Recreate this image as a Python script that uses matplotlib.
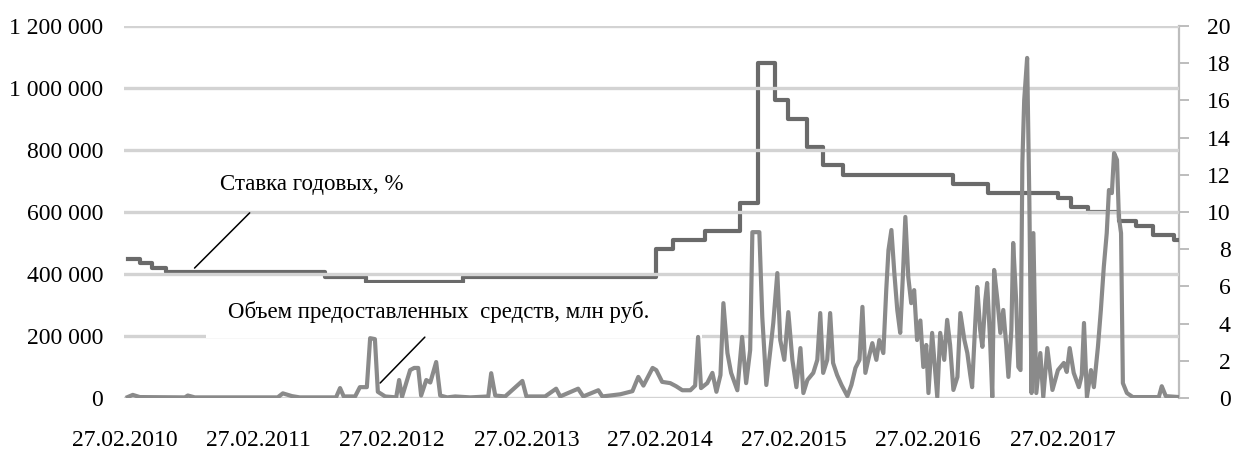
import matplotlib.pyplot as plt
import matplotlib.dates as mdates
import pandas as pd
from matplotlib.patches import Rectangle

plt.rcParams['font.family'] = ['Liberation Serif', 'DejaVu Serif']

# Ставка годовых, % (ступенчатый ряд: дата начала, значение)
rate_dates = ['2010-03-08', '2010-04-10', '2010-05-13', '2010-06-20', '2011-08-28',
              '2011-12-17', '2012-09-08', '2014-02-14', '2014-04-03', '2014-06-30',
              '2014-10-03', '2014-11-19', '2015-01-06', '2015-02-11', '2015-04-04',
              '2015-05-17', '2015-07-09', '2016-05-06', '2016-08-08', '2017-02-15',
              '2017-03-22', '2017-05-08', '2017-07-31', '2017-09-15', '2017-11-01',
              '2017-12-28', '2018-01-11']
rate_values = [7.5, 7.25, 7.0, 6.75, 6.5, 6.25, 6.5, 8.0, 8.5, 9.0,
               10.5, 18.0, 16.0, 15.0, 13.5, 12.5, 12.0, 11.5, 11.0, 10.75,
               10.25, 10.0, 9.5, 9.25, 8.75, 8.5, 8.5]

# Объем предоставленных средств, млн руб.
vol_dates = [
    '2010-03-08', '2010-03-22', '2010-04-10', '2010-08-11', '2010-08-19', '2010-09-07',
    '2011-04-21', '2011-05-05', '2011-05-30', '2011-06-20', '2011-09-27', '2011-10-08',
    '2011-10-18', '2011-11-18', '2011-12-01', '2011-12-20', '2011-12-29', '2012-01-11',
    '2012-01-19', '2012-02-08', '2012-03-09', '2012-03-17', '2012-03-25', '2012-04-16',
    '2012-04-27', '2012-05-08', '2012-05-16', '2012-05-30', '2012-06-10', '2012-06-26',
    '2012-07-07', '2012-07-26', '2012-08-17', '2012-09-27', '2012-11-15', '2012-11-23',
    '2012-12-04', '2012-12-31', '2013-02-16', '2013-02-27', '2013-04-19', '2013-05-19',
    '2013-05-30', '2013-07-18', '2013-08-01', '2013-09-11', '2013-09-22', '2013-11-10',
    '2013-12-13', '2013-12-29', '2014-01-12', '2014-02-06', '2014-02-16', '2014-03-04',
    '2014-03-26', '2014-04-11', '2014-04-28', '2014-05-20', '2014-06-02', '2014-06-10',
    '2014-06-18', '2014-07-05', '2014-07-19', '2014-07-30', '2014-08-10', '2014-08-18',
    '2014-08-29', '2014-09-08', '2014-09-25', '2014-10-08', '2014-10-19', '2014-10-30',
    '2014-11-05', '2014-11-24', '2014-12-02', '2014-12-13', '2014-12-24', '2015-01-01',
    '2015-01-12', '2015-01-20', '2015-01-31', '2015-02-11', '2015-02-22', '2015-03-05',
    '2015-03-16', '2015-03-24', '2015-04-04', '2015-04-20', '2015-05-01', '2015-05-09',
    '2015-05-17', '2015-05-28', '2015-06-05', '2015-06-13', '2015-06-24', '2015-07-06',
    '2015-07-22', '2015-08-02', '2015-08-13', '2015-08-24', '2015-09-01', '2015-09-09',
    '2015-09-20', '2015-09-28', '2015-10-09', '2015-10-17', '2015-10-28', '2015-11-05',
    '2015-11-11', '2015-11-19', '2015-11-27', '2015-12-05', '2015-12-13', '2015-12-21',
    '2015-12-27', '2016-01-04', '2016-01-12', '2016-01-20', '2016-01-28', '2016-02-06',
    '2016-02-14', '2016-02-22', '2016-02-28', '2016-03-09', '2016-03-18', '2016-03-23',
    '2016-03-31', '2016-04-11', '2016-04-19', '2016-04-27', '2016-05-06', '2016-05-17',
    '2016-05-25', '2016-06-05', '2016-06-13', '2016-06-21', '2016-06-26', '2016-07-05',
    '2016-07-10', '2016-07-18', '2016-07-24', '2016-08-01', '2016-08-06', '2016-08-14',
    '2016-08-20', '2016-08-25', '2016-09-03', '2016-09-11', '2016-09-19', '2016-09-27',
    '2016-10-03', '2016-10-11', '2016-10-16', '2016-10-24', '2016-10-30', '2016-11-05',
    '2016-11-10', '2016-11-15', '2016-11-23', '2016-11-29', '2016-12-05', '2016-12-10',
    '2016-12-18', '2016-12-29', '2017-01-06', '2017-01-17', '2017-01-31', '2017-02-15',
    '2017-03-03', '2017-03-11', '2017-03-19', '2017-03-30', '2017-04-13', '2017-04-21',
    '2017-04-27', '2017-05-05', '2017-05-16', '2017-05-24', '2017-06-04', '2017-06-12',
    '2017-06-20', '2017-06-28', '2017-07-04', '2017-07-12', '2017-07-18', '2017-07-26',
    '2017-07-31', '2017-08-06', '2017-08-11', '2017-08-22', '2017-09-07', '2017-11-17',
    '2017-11-25', '2017-12-06', '2018-01-11']
vol_values = [
    3000, 10000, 3000, 2000, 8000, 2000,
    2000, 15000, 6000, 2000, 2000, 32000,
    5000, 5000, 35000, 35000, 193000, 190000,
    20000, 5000, 2000, 58000, 4000, 90000,
    97000, 97000, 8000, 58000, 50000, 116000,
    8000, 2000, 5000, 2000, 5000, 80000,
    8000, 5000, 55000, 5000, 5000, 30000,
    5000, 30000, 5000, 25000, 5000, 12000,
    22000, 68000, 40000, 97000, 90000, 52000,
    48000, 38000, 25000, 25000, 40000, 197000,
    32000, 48000, 81000, 20000, 74000, 306000,
    145000, 81000, 25000, 197000, 48000, 155000,
    535000, 535000, 261000, 42000, 155000, 242000,
    403000, 187000, 123000, 277000, 123000, 35000,
    161000, 16000, 58000, 81000, 123000, 274000,
    81000, 123000, 274000, 113000, 74000, 42000,
    6000, 42000, 97000, 123000, 294000, 81000,
    139000, 177000, 123000, 187000, 145000, 350000,
    477000, 542000, 403000, 284000, 210000, 413000,
    584000, 390000, 306000, 348000, 187000, 250000,
    100000, 171000, 16000, 210000, 74000, 3000,
    210000, 123000, 252000, 171000, 26000, 68000,
    274000, 187000, 145000, 74000, 35000, 252000,
    358000, 219000, 165000, 316000, 371000, 187000,
    3000, 413000, 316000, 210000, 284000, 171000,
    68000, 219000, 500000, 316000, 100000, 90000,
    758000, 961000, 1097000, 639000, 16000, 532000,
    16000, 145000, 3000, 161000, 26000, 90000,
    113000, 84000, 161000, 81000, 35000, 74000,
    242000, 3000, 90000, 35000, 165000, 284000,
    423000, 532000, 671000, 661000, 790000, 768000,
    584000, 532000, 48000, 16000, 3000, 3000,
    38000, 6000, 3000]

tick_dates = ['2010-02-27', '2011-02-27', '2012-02-27', '2013-02-27',
              '2014-02-27', '2015-02-27', '2016-02-27', '2017-02-27']
left_ticks = [0, 200000, 400000, 600000, 800000, 1000000, 1200000]
right_ticks = list(range(0, 21, 2))

rate_x = pd.to_datetime(rate_dates)
vol_x = pd.to_datetime(vol_dates)

fig = plt.figure(figsize=(12.4, 4.51), dpi=100)
ax = fig.add_axes([124 / 1240, 1 - 398 / 451, (1179 - 124) / 1240, 372 / 451])
ax2 = ax.twinx()

grid_color = '#d3d3d3'
ax.set_ylim(0, 1200000)
ax.set_yticks(left_ticks)
ax.set_yticklabels([f'{v:,.0f}'.replace(',', ' ') for v in left_ticks])
ax.yaxis.grid(True, color=grid_color, linewidth=2.4)
ax.set_axisbelow(True)
ax.tick_params(axis='y', length=0, pad=15, labelsize=17)
ax.tick_params(axis='x', length=0, pad=23, labelsize=17)
for s in ax.spines.values():
    s.set_visible(False)

ax.set_xlim(pd.Timestamp('2010-02-26'), pd.Timestamp('2018-01-11'))
ax.set_xticks(pd.to_datetime(tick_dates))
ax.xaxis.set_major_formatter(mdates.DateFormatter('%d.%m.%Y'))

ax2.set_ylim(0, 20)
ax2.set_yticks(right_ticks)
for s in ['top', 'left', 'bottom']:
    ax2.spines[s].set_visible(False)
ax2.spines['right'].set_color('#bdbdbd')
ax2.spines['right'].set_linewidth(1.6)
ax2.tick_params(axis='y', length=7, width=1.4, color='#bdbdbd', pad=30, labelsize=17)
for lab in ax2.get_yticklabels():
    lab.set_horizontalalignment('right')

# белая подложка под подписью объема
ax.add_patch(Rectangle((0.078, 0.16), 0.47, 0.15, transform=ax.transAxes,
                       facecolor='white', edgecolor='none', zorder=1))

ax2.plot(rate_x, rate_values, drawstyle='steps-post', color='#6a6a6a', linewidth=3.0, zorder=3)

# объем рисуем поверх ставки
ax.set_zorder(ax2.get_zorder() + 1)
ax.patch.set_visible(False)
ax.plot(vol_x, vol_values, color='#8a8a8a', linewidth=3.0, zorder=3)

ax.text(0.178, 0.573, 'Ставка годовых, %', transform=ax.transAxes,
        ha='center', va='center', fontsize=16.5)
ax.annotate('', xy=(0.065, 0.344), xytext=(0.121, 0.503), xycoords='axes fraction',
            arrowprops=dict(arrowstyle='-', color='black', lw=1.1))
ax.text(0.298, 0.231, 'Объем предоставленных  средств, млн руб.', transform=ax.transAxes,
        ha='center', va='center', fontsize=16.5, zorder=4)
ax.annotate('', xy=(0.241, 0.035), xytext=(0.287, 0.169), xycoords='axes fraction',
            arrowprops=dict(arrowstyle='-', color='black', lw=1.1))

fig.savefig('out.png', dpi=100)
